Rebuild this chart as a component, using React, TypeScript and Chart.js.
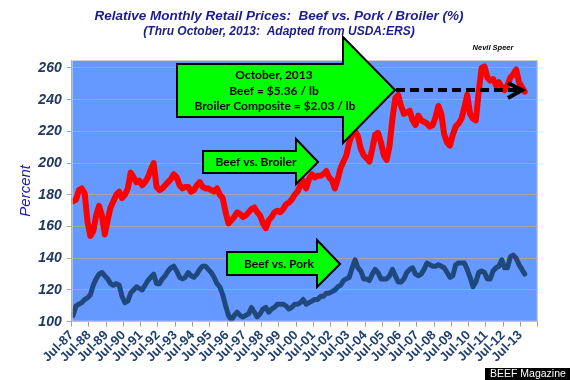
import { useEffect, useRef } from "react";
import { Chart, registerables } from "chart.js";

Chart.register(...registerables);

// Samples every 2 months, starting Aug-1987 (month 1 after Jul-87), ending Oct-2013
const FIRST_MONTH = 1;
const STEP_MONTHS = 2;

const beefVsBroiler = [
  176, 177, 183, 184, 181, 163,
  154, 157, 167, 173, 167, 155,
  164, 172, 176, 180, 182, 178,
  180, 184, 194, 191, 188, 189,
  186, 188, 191, 196, 200, 185,
  183, 184, 186, 188, 190, 193,
  191, 186, 184, 185, 185, 182,
  183, 186, 188, 185, 184, 184,
  183, 182, 184, 180, 178, 169,
  162, 164, 166, 169, 168, 166,
  167, 169, 171, 172, 169, 167,
  162, 159, 164, 166, 169, 170,
  169, 171, 174, 175, 177, 180,
  182, 186, 189, 184, 190, 193,
  191, 192, 192, 193, 195, 191,
  189, 184, 190, 197, 201, 205,
  213, 218, 220, 217, 209, 205,
  203, 201, 209, 218, 219, 213,
  205, 202, 211, 228, 241, 243,
  236, 231, 232, 233, 227, 224,
  230, 227, 226, 225, 223, 224,
  229, 236, 231, 218, 213, 211,
  218, 223, 225, 228, 235, 243,
  231, 228, 227, 245, 260, 261,
  254, 252, 253, 249, 251, 248,
  246, 249, 254, 256, 259, 251,
  248, 245,
];

const beefVsPork = [
  104, 110, 111, 112, 114, 115,
  117, 123, 127, 130, 131, 129,
  127, 124, 123, 124, 123, 116,
  112, 113, 118, 120, 122, 121,
  120, 123, 126, 128, 130, 124,
  124, 127, 129, 132, 134, 135,
  132, 128, 127, 128, 131, 129,
  128, 130, 133, 135, 135, 133,
  131, 128, 124, 122, 117, 110,
  104, 101, 104, 106, 104, 103,
  104, 105, 109, 106, 103, 105,
  108, 109, 106, 108, 109, 111,
  111, 111, 110, 108, 109, 111,
  111, 112, 114, 111, 112, 113,
  114, 114, 116, 116, 118, 118,
  119, 120, 122, 123, 126, 127,
  128, 134, 139, 134, 132, 127,
  127, 126, 130, 133, 131, 127,
  127, 127, 129, 133, 129, 125,
  125, 127, 131, 133, 134, 130,
  129, 130, 133, 137, 136, 135,
  135, 136, 135, 134, 131, 128,
  129, 136, 137, 137, 137, 133,
  128, 122, 125, 131, 132, 131,
  127, 127, 132, 134, 135, 139,
  134, 134, 141, 142, 140, 136,
  133, 130,
];

const xTickLabels = [
  "Jul-87", "Jul-88", "Jul-89", "Jul-90", "Jul-91", "Jul-92", "Jul-93",
  "Jul-94", "Jul-95", "Jul-96", "Jul-97", "Jul-98", "Jul-99", "Jul-00",
  "Jul-01", "Jul-02", "Jul-03", "Jul-04", "Jul-05", "Jul-06", "Jul-07",
  "Jul-08", "Jul-09", "Jul-10", "Jul-11", "Jul-12", "Jul-13",
];
const yTickValues = [100, 120, 140, 160, 180, 200, 220, 240, 260];

const TITLE = "Relative Monthly Retail Prices:  Beef vs. Pork / Broiler (%)";
const SUBTITLE = "(Thru October, 2013:  Adapted from USDA:ERS)";
const CALLOUT_LINES = ["October, 2013", "Beef = $5.36 / lb", "Broiler Composite = $2.03 / lb"];
const BROILER_LABEL = "Beef vs. Broiler";
const PORK_LABEL = "Beef vs. Pork";
const AUTHOR = "Nevil Speer";
const SOURCE = "BEEF Magazine";

export default function App() {
  const ref = useRef<HTMLCanvasElement | null>(null);

  useEffect(() => {
    document.body.style.margin = "0";
    const canvas = ref.current;
    if (!canvas) return;
    const toPts = (arr: number[]) =>
      arr.map((v, i) => ({ x: FIRST_MONTH + STEP_MONTHS * i, y: v }));

    const arrow = (
      ctx: CanvasRenderingContext2D,
      x0: number, bodyTop: number, bodyBot: number,
      headX: number, headTop: number, headBot: number,
      tipX: number, tipY: number
    ) => {
      ctx.beginPath();
      ctx.moveTo(x0, bodyTop);
      ctx.lineTo(headX, bodyTop);
      ctx.lineTo(headX, headTop);
      ctx.lineTo(tipX, tipY);
      ctx.lineTo(headX, headBot);
      ctx.lineTo(headX, bodyBot);
      ctx.lineTo(x0, bodyBot);
      ctx.closePath();
      ctx.fillStyle = "#00FF00";
      ctx.fill();
      ctx.lineWidth = 2;
      ctx.strokeStyle = "#000000";
      ctx.lineJoin = "miter";
      ctx.stroke();
    };

    const decor = {
      id: "decor",
      beforeDraw(chart: any) {
        const { ctx, chartArea: a } = chart;
        ctx.save();
        ctx.fillStyle = "#ffffff";
        ctx.fillRect(0, 0, chart.width, chart.height);
        ctx.fillStyle = "#6699FF";
        ctx.fillRect(a.left, a.top, a.right - a.left, a.bottom - a.top);
        ctx.restore();
      },
      afterDraw(chart: any) {
        const { ctx, chartArea: a } = chart;
        ctx.save();
        ctx.strokeStyle = "#D0D0D0";
        ctx.lineWidth = 1;
        ctx.strokeRect(a.left + 0.5, a.top + 0.5, a.right - a.left - 1, a.bottom - a.top - 1);

        // titles
        ctx.textAlign = "center";
        ctx.textBaseline = "middle";
        ctx.fillStyle = "#1C1C8C";
        ctx.font = 'italic bold 13.5px "Liberation Sans", Arial, sans-serif';
        ctx.fillText(TITLE, 279, 16);
        ctx.font = 'italic bold 12px "Liberation Sans", Arial, sans-serif';
        ctx.fillText(SUBTITLE, 279, 32);

        ctx.fillStyle = "#000000";
        ctx.font = 'italic bold 7.5px "Liberation Sans", Arial, sans-serif';
        ctx.fillText(AUTHOR, 493, 48);

        // y-axis title
        ctx.save();
        ctx.translate(26, (a.top + a.bottom) / 2);
        ctx.rotate(-Math.PI / 2);
        ctx.fillStyle = "#2020A0";
        ctx.font = 'italic 15px "Liberation Sans", Arial, sans-serif';
        ctx.fillText("Percent", 0, 0);
        ctx.restore();

        // big callout arrow
        arrow(ctx, 177, 64, 117, 343, 37, 143, 395, 90);
        ctx.fillStyle = "#000000";
        ctx.font = 'bold 12px Lato, "Open Sans", sans-serif';
        ctx.fillText(CALLOUT_LINES[0], 274, 75);
        ctx.fillText(CALLOUT_LINES[1], 274, 91);
        ctx.fillText(CALLOUT_LINES[2], 275, 106.5);

        // dashed arrow
        ctx.beginPath();
        ctx.setLineDash([9, 5]);
        ctx.lineWidth = 4;
        ctx.strokeStyle = "#000000";
        ctx.moveTo(396, 90);
        ctx.lineTo(519, 90);
        ctx.stroke();
        ctx.setLineDash([]);
        ctx.beginPath();
        ctx.lineWidth = 4;
        ctx.lineJoin = "miter";
        ctx.moveTo(508, 83);
        ctx.lineTo(522, 90);
        ctx.lineTo(508, 98);
        ctx.stroke();

        // beef vs broiler arrow
        arrow(ctx, 203, 151, 173, 296, 139, 184, 318, 162);
        ctx.fillStyle = "#000000";
        ctx.font = 'bold 12px Lato, "Open Sans", sans-serif';
        ctx.fillText(BROILER_LABEL, 256, 162.5);

        // beef vs pork arrow
        arrow(ctx, 227, 252, 275, 317, 240, 287, 340, 264);
        ctx.fillStyle = "#000000";
        ctx.fillText(PORK_LABEL, 279, 264.5);

        // source box
        ctx.fillStyle = "#000000";
        ctx.fillRect(485, 368, 85, 12);
        ctx.fillStyle = "#ffffff";
        ctx.font = '10.5px "Liberation Sans", Arial, sans-serif';
        ctx.textAlign = "left";
        ctx.fillText(SOURCE, 490, 374.5);
        ctx.restore();
      },
    };

    const chart = new Chart(canvas, {
      type: "line",
      data: {
        datasets: [
          {
            label: BROILER_LABEL,
            data: toPts(beefVsBroiler),
            borderColor: "#FF0000",
            borderWidth: 6,
            pointRadius: 0,
            tension: 0,
            borderJoinStyle: "round",
            borderCapStyle: "round",
          },
          {
            label: PORK_LABEL,
            data: toPts(beefVsPork),
            borderColor: "#1F497D",
            borderWidth: 5,
            pointRadius: 0,
            tension: 0,
            borderJoinStyle: "round",
            borderCapStyle: "round",
          },
        ],
      },
      options: {
        animation: false,
        responsive: false,
        layout: { padding: { top: 60, right: 32.3, bottom: 0, left: 0 } },
        plugins: {
          legend: { display: false },
          tooltip: { enabled: false },
          title: { display: false },
        },
        scales: {
          x: {
            type: "linear",
            min: 0,
            max: 324,
            afterBuildTicks: (s: any) => {
              s.ticks = xTickLabels.map((_, k) => ({ value: 12 * k })).concat([{ value: 324 }]);
            },
            afterFit: (s: any) => {
              s.height = 58.3;
            },
            ticks: {
              autoSkip: false,
              minRotation: 45,
              maxRotation: 45,
              padding: 1,
              color: "#1F3F6F",
              font: { family: '"Liberation Sans", Arial, sans-serif', size: 13, weight: "bold" },
              callback: (v: any) => xTickLabels[Math.round(Number(v) / 12)] ?? "",
            },
            grid: {
              drawOnChartArea: false,
              drawTicks: true,
              tickLength: 5,
              color: "#A0A0A0",
            },
            border: { display: true, color: "#A0A0A0" },
          },
          y: {
            min: 100,
            max: 265,
            afterBuildTicks: (s: any) => {
              s.ticks = yTickValues.map((v) => ({ value: v }));
            },
            afterFit: (s: any) => {
              s.width = 71.7;
            },
            ticks: {
              padding: 5,
              color: "#1F3864",
              font: { family: '"Liberation Sans", Arial, sans-serif', size: 14, weight: "bold", style: "italic" },
            },
            grid: {
              color: "#A6A6A6",
              tickLength: 5,
            },
            border: { display: true, color: "#A0A0A0" },
          },
        },
      },
      plugins: [decor],
    } as any);

    return () => chart.destroy();
  }, []);

  return (
    <div style={{ position: "fixed", left: 0, top: 0, width: 570, height: 380 }}>
      <canvas ref={ref} width={570} height={380} style={{ width: 570, height: 380, display: "block" }} />
    </div>
  );
}
